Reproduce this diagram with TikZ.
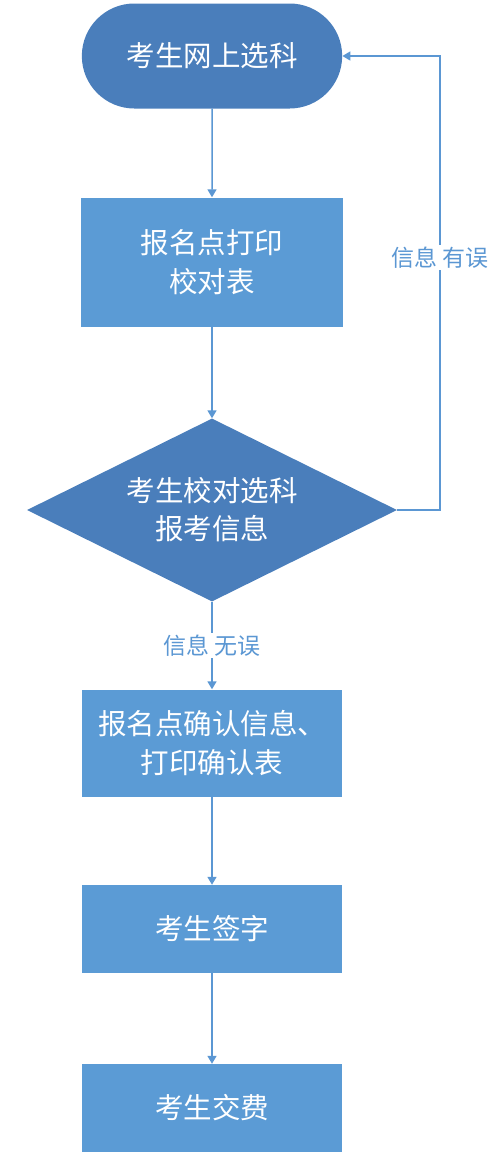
\documentclass[tikz,border=0pt]{standalone}
\usepackage{fontspec}
\newfontfamily\cjk{Noto Sans CJK SC}
\usetikzlibrary{shapes.geometric,shapes.misc,arrows.meta}
\definecolor{darkblue}{HTML}{4A7EBB}
\definecolor{boxblue}{HTML}{5B9BD5}
\definecolor{lineblue}{HTML}{5B97D3}
\begin{document}
\begin{tikzpicture}[x=1pt,y=-1pt,
  >={Triangle[length=8pt,width=9pt]},
  box/.style={draw=none,fill=boxblue,text=white,minimum width=262pt,align=center,
    font=\cjk\fontsize{28.5}{39}\selectfont},
  start/.style={rounded rectangle,fill=darkblue,text=white,minimum width=267pt,minimum height=105pt,
    font=\cjk\fontsize{28.5}{39}\selectfont},
  check/.style={diamond,aspect=2,fill=darkblue,text=white,inner sep=0pt,minimum width=370pt,minimum height=183pt,
    align=center,font=\cjk\fontsize{28.5}{38}\selectfont},
  line/.style={draw=lineblue,line width=1.5pt},
  tag/.style={fill=white,text=lineblue,inner sep=2pt,font=\cjk\fontsize{23}{26}\selectfont}]
\useasboundingbox (0,0) rectangle (500,1160);

 \node[start](0) at (212,56){考生网上选科};
 \node[box,minimum height=129pt](1) at (212,262){报名点打印\\校对表};
 \node[check](2) at (212,510){考生校对选科\\报考信息};
 \node[box,minimum height=107pt,minimum width=260pt](3) at (212,743){报名点确认信息、\\打印确认表};
 \node[box,minimum height=88pt,minimum width=260pt](4) at (212,929){考生签字};
 \node[box,minimum height=88pt,minimum width=260pt](5) at (212,1108){考生交费};
 \coordinate (6) at (440,0);

 \draw [line,->] (0) -- (1);
 \draw [line,->] (1) -- (2);
 \draw [line,->] (2) -- node[tag]{信息\hspace{6pt}无误} (3);
 \draw [line,->] (3) -- (4);
 \draw [line,->] (4) -- (5);
 \draw [line,->] (2.east) -- (2.east -| 6) |- node[tag,pos=0.278]{信息\hspace{6pt}有误} (0.east);
\end{tikzpicture}
\end{document}
